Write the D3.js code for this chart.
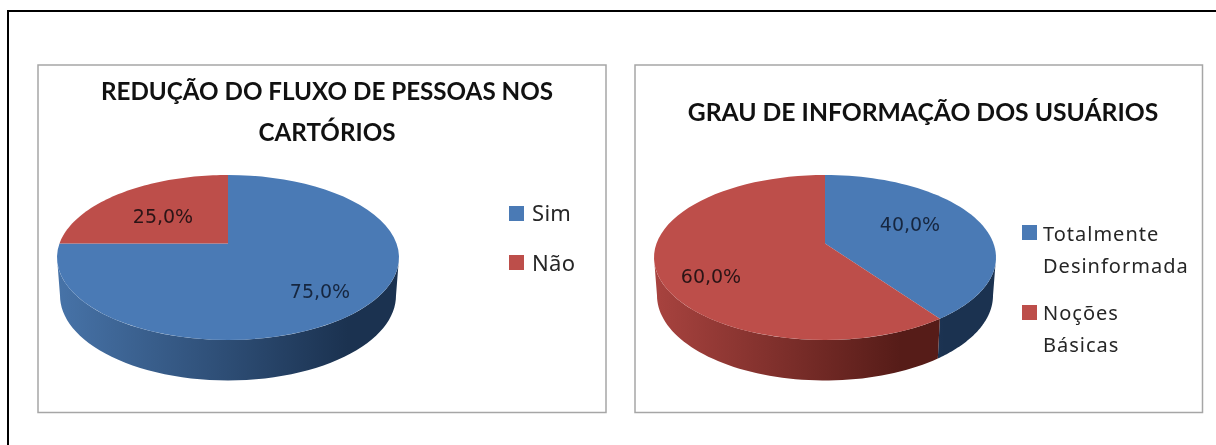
<!DOCTYPE html>
<html><head><meta charset="utf-8">
<script src="https://cdn.jsdelivr.net/npm/d3@7/dist/d3.min.js"></script>
<style>html,body{margin:0;padding:0;background:#fff;overflow:hidden}svg{display:block;filter:blur(0.6px)}</style>
</head><body><svg id="c" width="1216" height="445"></svg>
<script>
const titleLeft = ["REDUÇÃO DO FLUXO DE PESSOAS NOS", "CARTÓRIOS"];
const categoriesLeft = ["Sim", "Não"];
const valuesLeft = [75, 25];
const titleRight = ["GRAU DE INFORMAÇÃO DOS USUÁRIOS"];
const categoriesRight = [["Totalmente", "Desinformada"], ["Noções", "Básicas"]];
const valuesRight = [40, 60];
const colors = ["#4a7ab5", "#bd4e4a"];
const wallColors = [["#4773a8", "#1b3250"], ["#a8433f", "#561c18"]];

const svg = d3.select("#c");
const defs = svg.append("defs");
svg.append("rect").attr("width",1216).attr("height",445).attr("fill","#fff");
svg.append("path").attr("d",d3.line()([[8,445],[8,11],[1216,11]]))
  .attr("fill","none").attr("stroke","#000").attr("stroke-width",2);

const fmt = v => d3.format(".1f")(v).replace(".", ",") + "%";
const persp = -0.17, depth = 38;

function drawPanel(id, px, pw, title, titleX, titleYs, titleSize, cats, vals, cx, labelPos, legend) {
  const g = svg.append("g");
  g.append("rect").attr("x",px).attr("y",65).attr("width",pw).attr("height",347.5)
    .attr("fill","#fff").attr("stroke","#a6a6a6").attr("stroke-width",1.5);
  title.forEach((t,i)=> g.append("text").attr("x",titleX).attr("y",titleYs[i])
    .attr("text-anchor","middle").attr("font-family","Lato, 'Open Sans', sans-serif")
    .attr("font-weight",700).attr("font-size",titleSize).attr("fill","#111").text(t));

  const cy = 257.5, rx = 171, ry = 82.5;
  const toXTop = d3.scaleLinear().domain([-1,1]).range([cx-rx,cx+rx]);
  const toYTop = d3.scaleLinear().domain([-1,1]).range([cy-ry,cy+ry]);
  const toXBot = d3.scaleLinear().domain([-1,1]).range([cx-168,cx+168]);
  const toYBot = d3.scaleLinear().domain([-1,1]).range([cy+depth-85,cy+depth+85]);
  const proj = th => {
    const u = -Math.cos(th), s = Math.sin(th), d = 1 + persp*u;
    return [s*Math.sqrt(1-persp*persp)/d, (u+persp)/d];
  };
  const top = th => { const p = proj(th); return [toXTop(p[0]), toYTop(p[1])]; };
  const bot = th => { const p = proj(th); return [toXBot(p[0]), toYBot(p[1])]; };
  const arcs = d3.pie().sort(null)(vals);
  const line = d3.line();
  const samples = (a,b) => d3.range(0,61).map(i => a + (b-a)*i/60);
  const wall0 = Math.acos(persp), wall1 = 2*Math.PI - wall0;

  arcs.forEach((a,i)=>{
    const s = Math.max(a.startAngle, wall0), e = Math.min(a.endAngle, wall1);
    if (e <= s) return;
    const gid = id+"w"+i;
    const gr = defs.append("linearGradient").attr("id",gid).attr("gradientUnits","userSpaceOnUse")
      .attr("x1",cx-rx).attr("x2",cx+rx).attr("y1",0).attr("y2",0);
    const c0 = wallColors[i][0], c1 = wallColors[i][1];
    gr.append("stop").attr("offset",0).attr("stop-color",c0);
    gr.append("stop").attr("offset",i===1&&id==="r"?0.72:0.85).attr("stop-color",c1);
    gr.append("stop").attr("offset",1).attr("stop-color",c1);
    const pts = samples(s,e).map(top).concat(samples(s,e).reverse().map(bot));
    g.append("path").attr("d",line(pts)+"Z").attr("fill",`url(#${gid})`);
  });
  arcs.forEach((a,i)=>{
    const pts = samples(a.startAngle,a.endAngle).map(top);
    pts.push([toXTop(0), toYTop(persp)]);
    g.append("path").attr("d",line(pts)+"Z").attr("fill",colors[i]);
  });
  vals.forEach((v,i)=> g.append("text").attr("x",labelPos[i][0]).attr("y",labelPos[i][1])
    .attr("text-anchor","middle").attr("font-family","'DejaVu Sans', sans-serif")
    .attr("font-size",19).attr("fill",i===0?"#16263f":"#2a1416").text(fmt(v)));

  cats.forEach((c,i)=>{
    const L = legend[i];
    g.append("rect").attr("x",L.x).attr("y",L.y).attr("width",15).attr("height",15).attr("fill",colors[i]);
    [].concat(c).forEach((t,j)=> g.append("text").attr("x",L.tx).attr("y",L.base+j*32)
      .attr("font-family","'Noto Sans', sans-serif").attr("font-size",L.fs).attr("letter-spacing",L.ls)
      .attr("fill","#262626").text(t));
  });
}
drawPanel("l",38,568,titleLeft,327,[100,141],24.2,categoriesLeft,valuesLeft,228,
  [[320,298],[163,223]],
  [{x:509,y:206,tx:532,base:221,fs:22,ls:0.3},{x:509,y:255,tx:532,base:271,fs:22,ls:0.3}]);
drawPanel("r",635,567.5,titleRight,923,[121],24.7,categoriesRight,valuesRight,825,
  [[910,231],[711,283]],
  [{x:1022,y:225,tx:1043,base:241,fs:20,ls:1.0},{x:1022,y:305,tx:1043,base:320,fs:20,ls:1.0}]);
</script></body></html>
